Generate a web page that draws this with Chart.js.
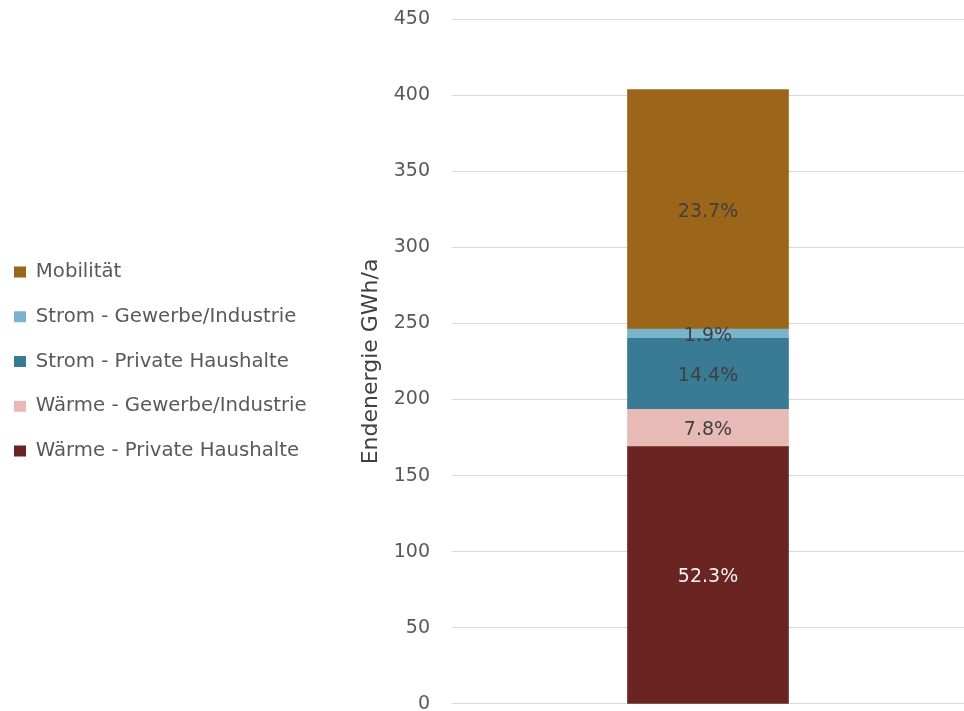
<!DOCTYPE html>
<html><head><meta charset="utf-8">
<script src="https://cdn.jsdelivr.net/npm/chart.js@4"></script>
<style>html,body{margin:0;padding:0;background:#fff}#wrap{width:964px;height:711px}</style>
</head><body><div id="wrap"><canvas id="c" width="964" height="711"></canvas></div>
<script>
const categories = [""];
const seriesNames = ["Wärme - Private Haushalte","Wärme - Gewerbe/Industrie","Strom - Private Haushalte","Strom - Gewerbe/Industrie","Mobilität"];
const warmePH = [169.0];
const warmeGI = [24.6];
const stromPH = [46.6];
const stromGI = [6.1];
const mobilitaet = [157.3];
const pctLabels = ["52.3%","7.8%","14.4%","1.9%","23.7%"];
const colors = ["#6A2422","#E8BAB6","#397A95","#79B4CB","#9C661A"];
const labelColors = ["#F2F2F2","#404040","#404040","#404040","#404040"];
const FONT = "'DejaVu Sans', sans-serif";
const values = [warmePH, warmeGI, stromPH, stromGI, mobilitaet];
const PAD_LEFT = -11;

const datasets = values.map((v,i)=>({label:seriesNames[i],data:v,backgroundColor:colors[i],borderWidth:0,barThickness:161}));

const labelPlugin = {
  id:'segLabels',
  afterDatasetsDraw(chart){
    const ctx = chart.ctx;
    ctx.save();
    ctx.font = "19px " + FONT;
    ctx.textAlign='center'; ctx.textBaseline='middle';
    chart.data.datasets.forEach((ds,i)=>{
      const meta = chart.getDatasetMeta(i);
      meta.data.forEach(el=>{
        const y = (el.y + el.base)/2 + 2.5;
        ctx.fillStyle = labelColors[i];
        ctx.fillText(pctLabels[i], el.x, y);
      });
    });
    ctx.restore();
  }
};

new Chart(document.getElementById('c'),{
  type:'bar',
  data:{labels:categories,datasets},
  plugins:[labelPlugin],
  options:{
    responsive:false,animation:false,
    layout:{padding:{left:PAD_LEFT,right:0,top:19,bottom:7}},
    plugins:{
      legend:{position:'left',reverse:true,maxWidth:420,
        labels:{boxWidth:12,boxHeight:11,padding:25,color:'#595959',font:{family:FONT,size:19.7}}},
      tooltip:{enabled:false}
    },
    scales:{
      x:{stacked:true,display:false},
      y:{stacked:true,min:0,max:450,
        afterFit(s){
          const lw = (s.chart.legend && isFinite(s.chart.legend.width)) ? s.chart.legend.width : 0;
          const w = 452 - PAD_LEFT - lw;
          if (isFinite(w) && w > 60) s.width = w;
        },
        ticks:{stepSize:50,color:'#595959',padding:0,font:{family:FONT,size:19,lineHeight:0.75}},
        grid:{color:'#D9D9D9',lineWidth:1,drawTicks:true,tickLength:22,tickColor:'rgba(0,0,0,0)'},
        border:{display:false},
        title:{display:true,text:'Endenergie GWh/a',color:'#404040',font:{family:FONT,size:22},padding:{top:41,bottom:0}}
      }
    }
  }
});
</script></body></html>
